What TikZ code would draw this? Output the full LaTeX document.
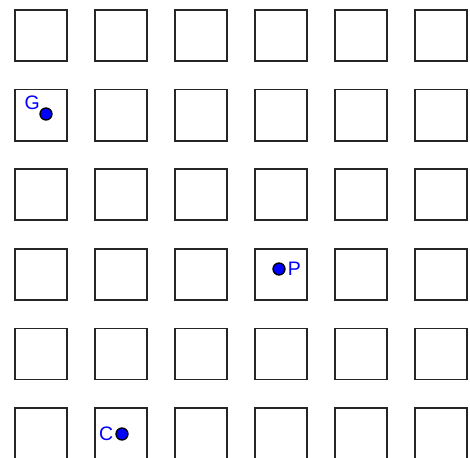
\documentclass[tikz,border=0pt]{standalone}
\usepackage{fontspec}
\setmainfont{Liberation Sans}
\usepackage{tikz}
\usetikzlibrary{positioning}

\begin{document}
\begin{tikzpicture}[
    x=1pt, y=-1pt,
    cell/.style={rectangle, draw=black!85, line width=1.8pt, minimum width=52pt, minimum height=51pt, inner sep=0pt},
    pt/.style={circle, draw=black, fill=blue, line width=1.3pt, minimum size=12pt, inner sep=0pt},
    lbl/.style={text=blue, font=\fontsize{19.5}{21}\selectfont, inner sep=1pt}
]
    \useasboundingbox (0,0) rectangle (470,457);

    % grid of squares
    \foreach \i in {0,...,5}
        \foreach \j in {0,...,5}
            \node[cell] (sq-\i-\j) at ({41+80*\i},{35.5+79.6*\j}) {};

    % points
    \node[pt, label={[lbl, label distance=-1pt]150:G}] (G) at (46,114) {};
    \node[pt, label={[lbl, label distance=1pt]right:P}] (P) at (279,269) {};
    \node[pt, label={[lbl, label distance=1pt]left:C}] (C) at (122,434) {};
\end{tikzpicture}
\end{document}
